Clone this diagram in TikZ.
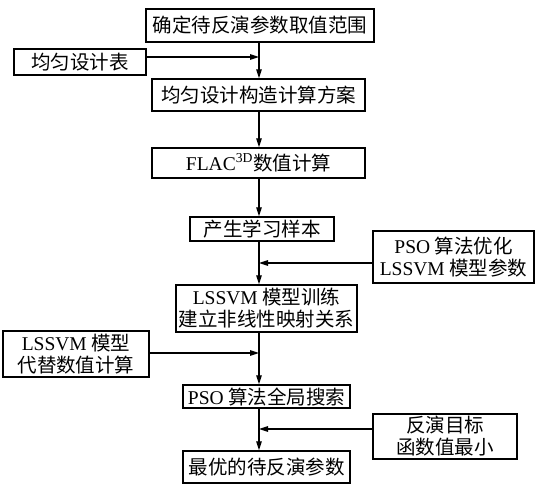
\documentclass[tikz,border=0pt]{standalone}
\usepackage{fontspec}
\setmainfont{Liberation Serif}
\newfontfamily\cjk{Noto Sans CJK SC}
\newcommand{\en}[1]{{\rmfamily #1}}
\usetikzlibrary{arrows.meta}
\tikzstyle{box}=[draw,line width=1.5pt,inner sep=0pt,align=center,font=\fontsize{19.5}{22}\selectfont\cjk]
\tikzstyle{flow}=[draw,line width=1.4pt,-{Triangle[length=9pt,width=5.5pt]}]

\begin{document}
\begin{tikzpicture}[x=1pt,y=-1pt]
    \useasboundingbox (0,0) rectangle (536,488);
    % main column and side boxes
    \foreach \pos/\w/\h/\name/\txt in {{(260,25.5)/228/33/range/确定待反演参数取值范围},
        {(80,62)/132/26/table/均匀设计表},
        {(258.5,95)/213/32/scheme/均匀设计构造计算方案},
        {(258.5,163)/213/30/flac/\en{FLAC\textsuperscript{3D}}数值计算},
        {(262,229)/144/24/sample/产生学习样本},
        {(453.5,257)/161/52/psoopt/\en{PSO} 算法优化\\\en{LSSVM} 模型参数},
        {(266.5,308.5)/181/47/train/\en{LSSVM} 模型训练\\建立非线性映射关系},
        {(76,354)/146/46/substitute/\en{LSSVM} 模型\\代替数值计算},
        {(266.5,396.5)/167/23/search/\en{PSO} 算法全局搜索},
        {(445,436.5)/144/45/objective/反演目标\\函数值最小},
        {(266.5,467)/167/32/best/最优的待反演参数}}
        \node[box,minimum width=\w pt,minimum height=\h pt] (\name) at \pos {\txt};

    % junctions on the main line
    \coordinate (spine) at (259,0);
    \coordinate (j1) at (259,57);
    \coordinate (j2) at (259,263);
    \coordinate (j3) at (259,353);
    \coordinate (j4) at (259,429);

    % main flow
    \foreach \source/\dest in {range/scheme, scheme/flac, flac/sample, sample/train, train/search, search/best}
        \path[flow] (\source.south -| spine) -- (\dest.north -| spine);

    % side inputs
    \path[flow] (table.east |- j1) -- (j1);
    \path[flow] (psoopt.west |- j2) -- (j2);
    \path[flow] (substitute.east |- j3) -- (j3);
    \path[flow] (objective.west |- j4) -- (j4);
\end{tikzpicture}
\end{document}
